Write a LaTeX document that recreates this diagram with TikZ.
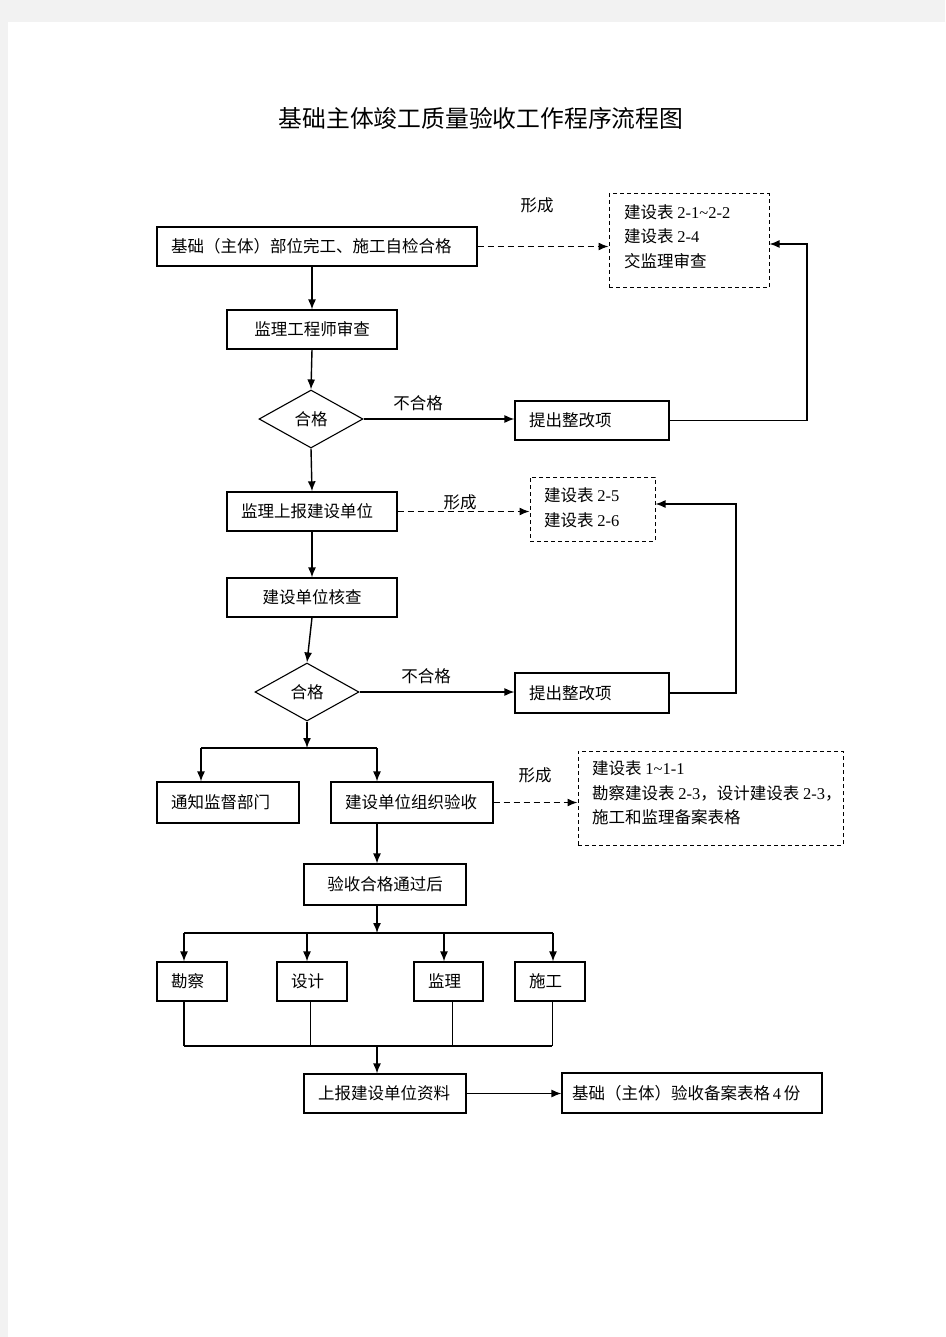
\documentclass[tikz,border=0pt]{standalone}
\usepackage{fontspec}
\setmainfont{Noto Sans CJK SC}
\newfontfamily\numf{Liberation Serif}
\usetikzlibrary{arrows.meta,shapes.geometric}
\newcommand{\nm}[1]{{\numf #1}}
\definecolor{pagegray}{HTML}{F2F2F2}
\begin{document}
\begin{tikzpicture}[x=1pt,y=-1pt,
  font=\fontsize{16.5}{20}\selectfont,
  box/.style={draw, line width=1.1pt, rectangle, inner xsep=0pt, inner ysep=0pt, align=left},
  cbox/.style={box, align=center},
  dbox/.style={draw, line width=1pt, dash pattern=on 4pt off 3pt, rectangle, inner sep=0pt},
  dia/.style={draw, line width=1.1pt, diamond, aspect=1.8, inner sep=0pt, minimum width=104, minimum height=58},
  arr/.style={line width=1.4pt, -{Latex[length=10pt,width=8pt]}},
  darr/.style={arr, dash pattern=on 6pt off 4pt},
  ln/.style={line width=1.1pt},
  lbl/.style={inner sep=0pt},
  dtext/.style={inner sep=0pt, anchor=west, align=left, font=\fontsize{16.5}{24.5}\selectfont}
]
\fill[pagegray] (0,0) rectangle (945,1337);
\fill[white] (8,22) rectangle (945,1337);
\useasboundingbox (0,0) rectangle (945,1337);

\node[lbl] (title) at (481,118) {\fontsize{23.8}{28}\selectfont 基础主体竣工质量验收工作程序流程图};

% boxes
\node[box, minimum width=320, minimum height=39, text width=292] (a) at (317,246.5) {基础（主体）部位完工、施工自检合格};
\node[cbox, minimum width=170, minimum height=39, text width=150] (b) at (312,329.5) {监理工程师审查};
\node[dia] (d1) at (311,419) {合格};
\node[box, minimum width=154, minimum height=39, text width=126] (r1) at (592,420.5) {提出整改项};
\node[box, minimum width=170, minimum height=39, text width=142, line width=1.4pt] (c) at (312,511.5) {监理上报建设单位};
\node[cbox, minimum width=170, minimum height=39, text width=150] (e) at (312,597.5) {建设单位核查};
\node[dia] (d2) at (307,692) {合格};
\node[box, minimum width=154, minimum height=40, text width=126] (r2) at (592,693) {提出整改项};
\node[box, minimum width=142, minimum height=41, text width=114] (f) at (228,802.5) {通知监督部门};
\node[box, minimum width=162, minimum height=41, text width=134] (g) at (412,802.5) {建设单位组织验收};
\node[cbox, minimum width=162, minimum height=41, text width=140] (h) at (385,884.5) {验收合格通过后};
\node[box, minimum width=70, minimum height=39, text width=42] (k1) at (192,981.5) {勘察};
\node[box, minimum width=70, minimum height=39, text width=42] (k2) at (312,981.5) {设计};
\node[box, minimum width=69, minimum height=39, text width=41] (k3) at (448.5,981.5) {监理};
\node[box, minimum width=70, minimum height=39, text width=42] (k4) at (550,981.5) {施工};
\node[box, minimum width=162, minimum height=39, text width=134] (m) at (385,1093.5) {上报建设单位资料};
\node[box, minimum width=260, minimum height=40, text width=240] (n) at (692,1093) {基础（主体）验收备案表格\,\nm{4}\,份};

% dashed boxes
\node[dbox, minimum width=160, minimum height=94] (s1) at (689,241) {};
\node[dtext] (s1t) at (624,236.5) {建设表 \nm{2-1\textasciitilde 2-2}\\建设表 \nm{2-4}\\交监理审查};
\node[dbox, minimum width=125, minimum height=64] (s2) at (592.5,509) {};
\node[dtext] (s2t) at (544,508) {建设表 \nm{2-5}\\建设表 \nm{2-6}};
\node[dbox, minimum width=265, minimum height=94] (s3) at (710.5,798) {};
\node[dtext] (s3t) at (592,793) {建设表 \nm{1\textasciitilde 1-1}\\勘察建设表 \nm{2-3}，设计建设表 \nm{2-3}，\\施工和监理备案表格};

% labels
\node[lbl] (l1) at (537,205) {形成};
\node[lbl] (l2) at (460,502) {形成};
\node[lbl] (l3) at (535,775) {形成};
\node[lbl] (l4) at (418,403) {不合格};
\node[lbl] (l5) at (426,676) {不合格};

% junction coordinates
\coordinate (ra) at (807,420);
\coordinate (rb) at (736,690);
\coordinate (jf) at (201,748);
\coordinate (jg) at (377,748);
\coordinate (jm) at (307,748);
\coordinate (h1) at (184,933);
\coordinate (h2) at (307,933);
\coordinate (h3) at (444,933);
\coordinate (h4) at (553,933);
\coordinate (hc) at (377,933);
\coordinate (b1) at (184,1046);
\coordinate (b2) at (310,1046);
\coordinate (b3) at (452,1046);
\coordinate (b4) at (552,1046);
\coordinate (bc) at (377,1046);

% connectors
\draw[arr] (b.north |- a.south) -- (b.north);
\draw[darr] (a.east) -- (a.east -| s1.west);
\draw[arr] (b.south) -- (d1.north);
\draw[arr] (d1.east) -- (d1.east -| r1.west);
\draw[arr] (r1.east) -- (r1.east -| ra) |- ([yshift=-3pt]s1.east);
\draw[arr] (d1.south) -- (c.north);
\draw[darr] (c.east) -- (c.east -| s2.west);
\draw[arr] (c.south) -- (e.north);
\draw[arr] (e.south) -- (d2.north);
\draw[arr] (d2.east) -- (d2.east -| r2.west);
\draw[arr] (r2.east) -- (r2.east -| rb) |- ([yshift=5pt]s2.east);
\draw[arr] (d2.south) -- (jm);
\draw[ln] (jf) -- (jg);
\draw[arr] (jf) -- (jf |- f.north);
\draw[arr] (jg) -- (jg |- g.north);
\draw[darr] (g.east) -- (g.east -| s3.west);
\draw[arr] (g.south -| jg) -- (h.north -| jg);
\draw[arr] (h.south -| hc) -- (hc);
\draw[ln] (h1) -- (h4);
\draw[arr] (h1) -- (h1 |- k1.north);
\draw[arr] (h2) -- (h2 |- k2.north);
\draw[arr] (h3) -- (h3 |- k3.north);
\draw[arr] (h4) -- (h4 |- k4.north);
\draw[line width=1.6pt] (b1 |- k1.south) -- (b1);
\draw[line width=0.9pt] (b2 |- k2.south) -- (b2);
\draw[line width=0.9pt] (b3 |- k3.south) -- (b3);
\draw[line width=0.9pt] (b4 |- k4.south) -- (b4);
\draw[ln] (b1) -- (b4);
\draw[arr] (bc) -- (bc |- m.north);
\draw[arr] (m.east) -- (m.east -| n.west);
\end{tikzpicture}
\end{document}
